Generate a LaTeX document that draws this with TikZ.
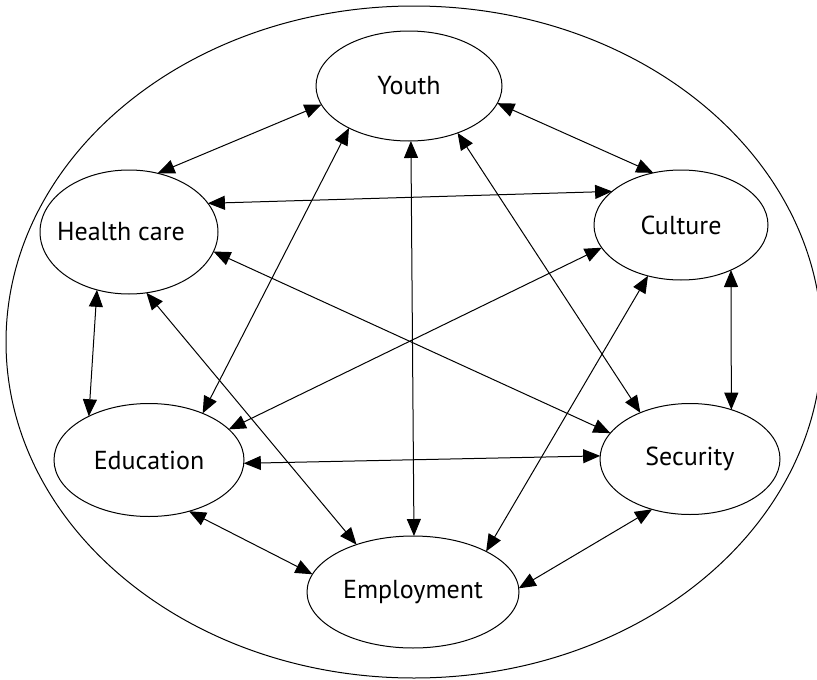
\documentclass[tikz,border=0pt]{standalone}
\usepackage{fontspec}
\setmainfont{PT Sans}
\usetikzlibrary{shapes.geometric,arrows.meta}
\newcommand{\ztext}[2][0pt]{\makebox[0pt][c]{\kern#1 #2}}
\begin{document}
\begin{tikzpicture}[x=1pt,y=-1pt,
  topic/.style={draw, ellipse, inner sep=0pt, outer sep=0pt, line width=1pt, font=\fontsize{26}{30}\selectfont},
  link/.style={line width=1pt, {Triangle[length=17pt,width=14pt]}-{Triangle[length=17pt,width=14pt]}}]
\clip (0,0) rectangle (817,680);
\node[draw, ellipse, inner sep=0pt, outer sep=0pt, minimum width=816pt, minimum height=672pt, line width=1pt] (outer) at (414,342) {};
\node[topic, minimum width=186pt, minimum height=110pt] (youth) at (409,86) {\ztext{Youth}};
\node[topic, minimum width=178pt, minimum height=124pt] (health) at (129,232) {\ztext[-16pt]{Health care}};
\node[topic, minimum width=174pt, minimum height=110pt] (culture) at (681,225) {\ztext{Culture}};
\node[topic, minimum width=190pt, minimum height=113pt] (edu) at (149,460) {\ztext{Education}};
\node[topic, minimum width=180pt, minimum height=111pt] (sec) at (690,459) {\ztext{Security}};
\node[topic, minimum width=212pt, minimum height=112pt] (emp) at (413,592) {\ztext{Employment}};
\draw[link] (youth.192) -- (health.64);
\draw[link] (youth.349.5) -- (culture.118.7);
\draw[link] (health.20.9) -- (culture.154.8);
\draw[link] (youth.215.9) -- (edu.41.6);
\draw[link] (youth.272) -- (emp.89);
\draw[link] (youth.316.6) -- (sec.137.8);
\draw[link] (health.347.6) -- (sec.162.9);
\draw[link] (culture.196.7) -- (edu.21.8);
\draw[link] (health.241.6) -- (edu.144.2);
\draw[link] (health.286.3) -- (emp.140.9);
\draw[link] (culture.237.9) -- (emp.29.8);
\draw[link] (culture.318) -- (sec.50.6);
\draw[link] (edu.358.2) -- (sec.178);
\draw[link] (edu.308.3) -- (emp.170.4);
\draw[link] (sec.233.6) -- (emp.2.1);
\end{tikzpicture}
\end{document}
